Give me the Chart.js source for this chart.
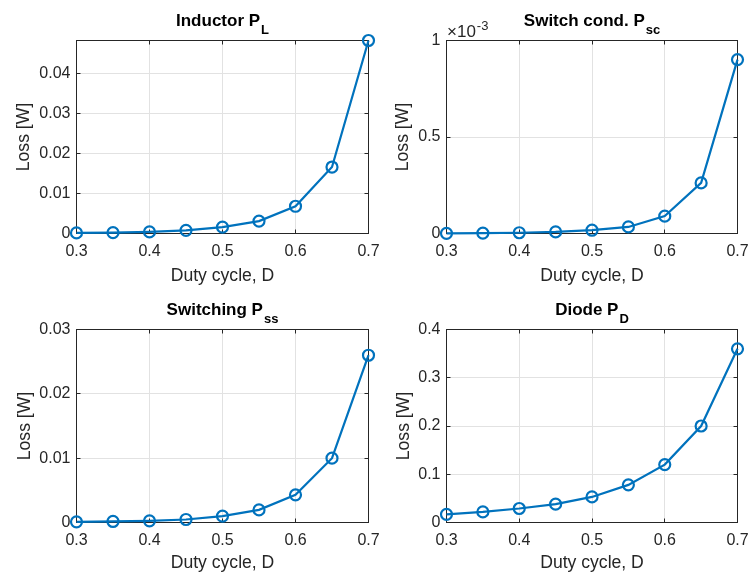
<!DOCTYPE html>
<html>
<head>
<meta charset="utf-8">
<script src="https://cdn.jsdelivr.net/npm/chart.js@4.4.0/dist/chart.umd.min.js"></script>
<style>
  body { margin: 0; background: #fff; width: 749px; height: 574px; position: relative; overflow: hidden; }
  canvas { position: absolute; }
</style>
</head>
<body>
<canvas id="pInd" width="390" height="287" style="left:0;top:0"></canvas>
<canvas id="pSc" width="379" height="287" style="left:370px;top:0"></canvas>
<canvas id="pSs" width="390" height="287" style="left:0;top:287px"></canvas>
<canvas id="pD" width="379" height="287" style="left:370px;top:287px"></canvas>
<script>
// duty cycle sweep
var duty = [0.3, 0.35, 0.4, 0.45, 0.5, 0.55, 0.6, 0.65, 0.7];
var dutyTicks = [0.3, 0.4, 0.5, 0.6, 0.7];

// loss components [W]
var inductorLoss   = [0.00015, 0.0002, 0.0004, 0.0008, 0.0016, 0.0031, 0.0068, 0.0166, 0.0482];
var switchCondLoss = [0.000001, 0.000002, 0.000004, 0.000008, 0.000017, 0.000034, 0.00009, 0.000262, 0.000901];
var switchingLoss  = [0.0001, 0.00016, 0.00026, 0.00047, 0.001, 0.00196, 0.0043, 0.01, 0.026];
var diodeLoss      = [0.017, 0.022, 0.029, 0.038, 0.053, 0.078, 0.12, 0.2, 0.36];

// y tick positions
var inductorTicks   = [0, 0.01, 0.02, 0.03, 0.04];
var switchCondTicks = [0, 0.0005, 0.001];
var switchingTicks  = [0, 0.01, 0.02, 0.03];
var diodeTicks      = [0, 0.1, 0.2, 0.3, 0.4];

var FONT = '"Liberation Sans", Arial, Helvetica, sans-serif';
var INK = '#262626';
var BLUE = '#0072BD';

function num(v) { return String(Number(v.toPrecision(6))); }

function crisp(p) { return Math.round(p - 0.5) + 0.5; }

// box, inward ticks, title with subscript and the exponent note
var axesBox = {
  id: 'axesBox',
  beforeDatasetsDraw: function (chart, args, o) {
    var ctx = chart.ctx, c = chart.chartArea;
    var sx = chart.scales.x, sy = chart.scales.y;
    ctx.save();
    ctx.strokeStyle = INK;
    ctx.lineWidth = 1;
    ctx.strokeRect(c.left, c.top, c.right - c.left, c.bottom - c.top);
    ctx.beginPath();
    sx.ticks.forEach(function (t) {
      var px = crisp(sx.getPixelForValue(t.value));
      ctx.moveTo(px, c.bottom); ctx.lineTo(px, c.bottom - 4);
      ctx.moveTo(px, c.top); ctx.lineTo(px, c.top + 4);
    });
    sy.ticks.forEach(function (t) {
      var py = crisp(sy.getPixelForValue(t.value));
      ctx.moveTo(c.left, py); ctx.lineTo(c.left + 4, py);
      ctx.moveTo(c.right, py); ctx.lineTo(c.right - 4, py);
    });
    ctx.stroke();
    ctx.restore();
  },
  afterDraw: function (chart, args, o) {
    var ctx = chart.ctx, c = chart.chartArea;
    ctx.save();
    ctx.textAlign = 'left';
    ctx.textBaseline = 'alphabetic';
    ctx.fillStyle = '#000';
    ctx.font = 'bold 17px ' + FONT;
    var w1 = ctx.measureText(o.title).width;
    ctx.font = 'bold 13px ' + FONT;
    var w2 = ctx.measureText(o.sub).width;
    var x0 = (c.left + c.right) / 2 - (w1 + w2 + 1) / 2;
    var base = c.top - 14.5;
    ctx.font = 'bold 17px ' + FONT;
    ctx.fillText(o.title, x0, base);
    ctx.font = 'bold 13px ' + FONT;
    ctx.fillText(o.sub, x0 + w1 + 1, base + 7.5);

    if (o.exp) {
      ctx.fillStyle = INK;
      ctx.font = '17px ' + FONT;
      ctx.fillText('\u00d710', c.left + 0.5, c.top - 3.8);
      var w = ctx.measureText('\u00d710').width;
      ctx.font = '13px ' + FONT;
      ctx.fillText(String(o.exp), c.left + w + 1.5, c.top - 10.5);
    }
    ctx.restore();
  }
};

function lossPanel(id, values, yTicks, yMax, area, cfg) {
  var canvas = document.getElementById(id);
  var W = canvas.width, H = canvas.height;
  var factor = cfg.exp ? Math.pow(10, -cfg.exp) : 1;
  var points = duty.map(function (d, i) { return { x: d, y: values[i] }; });

  return new Chart(canvas, {
    type: 'line',
    data: {
      datasets: [{
        data: points,
        borderColor: BLUE,
        borderWidth: 2.2,
        pointRadius: 5.5,
        pointBorderWidth: 2.2,
        pointBorderColor: BLUE,
        pointBackgroundColor: 'rgba(0,0,0,0)',
        tension: 0,
        clip: false
      }]
    },
    options: {
      responsive: false,
      animation: false,
      events: [],
      layout: { padding: { left: 0, top: area.t, right: W - area.r, bottom: 0 } },
      plugins: {
        legend: { display: false },
        tooltip: { enabled: false },
        axesBox: { title: cfg.title, sub: cfg.sub, exp: cfg.exp }
      },
      scales: {
        x: {
          type: 'linear',
          min: 0.3,
          max: 0.7,
          afterBuildTicks: function (s) { s.ticks = dutyTicks.map(function (v) { return { value: v }; }); },
          afterFit: function (s) { s.height = H - area.b; s.paddingLeft = 0; s.paddingRight = 0; },
          grid: { color: '#e2e2e2', drawTicks: false },
          border: { display: false },
          ticks: {
            color: INK, autoSkip: false, maxRotation: 0, padding: 8,
            font: { family: FONT, size: 16 },
            callback: function (v) { return num(v); }
          },
          title: {
            display: true, text: 'Duty cycle, D', color: INK,
            font: { family: FONT, size: 17.6 }, padding: { top: 0, bottom: 0 }
          }
        },
        y: {
          type: 'linear',
          min: 0,
          max: yMax,
          afterBuildTicks: function (s) { s.ticks = yTicks.map(function (v) { return { value: v }; }); },
          afterFit: function (s) { s.width = area.l; s.paddingTop = 0; s.paddingBottom = 0; },
          grid: { color: '#e2e2e2', drawTicks: false },
          border: { display: false },
          ticks: {
            color: INK, autoSkip: false, padding: 6,
            font: { family: FONT, size: 16 },
            callback: function (v) { return num(v * factor); }
          },
          title: {
            display: true, text: 'Loss [W]', color: INK,
            font: { family: FONT, size: 17.6 }, padding: { top: cfg.yTitleX - 10.56, bottom: 0 }
          }
        }
      }
    },
    plugins: [axesBox]
  });
}

lossPanel('pInd', inductorLoss, inductorTicks, Math.max.apply(null, inductorLoss),
  { l: 76.5, t: 40.5, r: 368.5, b: 233.5 },
  { title: 'Inductor P', sub: 'L', yTitleX: 24 });

lossPanel('pSc', switchCondLoss, switchCondTicks, 0.001,
  { l: 76.5, t: 40.5, r: 367.5, b: 233.5 },
  { title: 'Switch cond. P', sub: 'sc', yTitleX: 33.3, exp: -3 });

lossPanel('pSs', switchingLoss, switchingTicks, 0.03,
  { l: 76.5, t: 42.5, r: 368.5, b: 235.5 },
  { title: 'Switching P', sub: 'ss', yTitleX: 25 });

lossPanel('pD', diodeLoss, diodeTicks, 0.4,
  { l: 76.5, t: 42.5, r: 367.5, b: 235.5 },
  { title: 'Diode P', sub: 'D', yTitleX: 33.7 });
</script>
</body>
</html>
